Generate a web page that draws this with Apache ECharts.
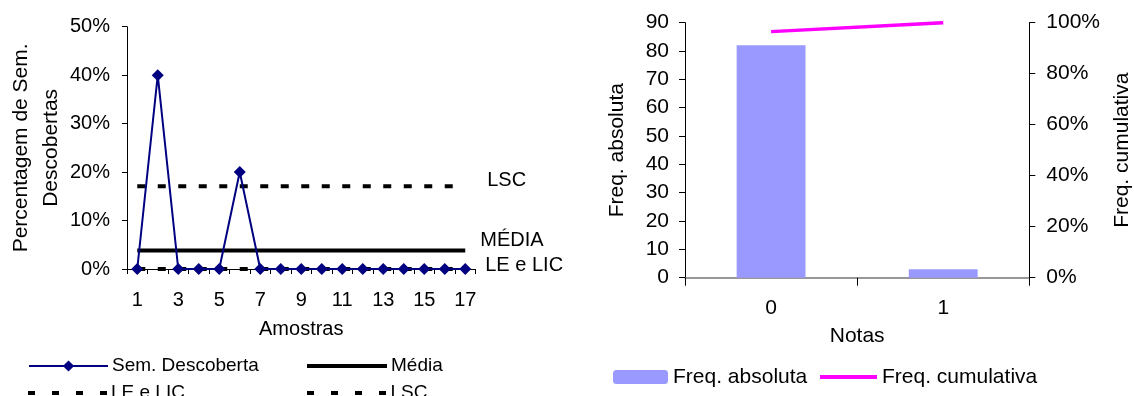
<!DOCTYPE html>
<html>
<head>
<meta charset="utf-8">
<script src="https://cdn.jsdelivr.net/npm/echarts@6/dist/echarts.min.js"></script>
<style>
html,body{margin:0;padding:0;background:#fff;}
#c{width:1134px;height:396px;}
</style>
</head>
<body>
<div id="c"></div>
<script>
// ---- Left chart data (control chart) ----
const amostras = ['1','2','3','4','5','6','7','8','9','10','11','12','13','14','15','16','17'];
const semDescoberta = [0, 0.40, 0, 0, 0, 0.20, 0, 0, 0, 0, 0, 0, 0, 0, 0, 0, 0];
const media = [0.038,0.038,0.038,0.038,0.038,0.038,0.038,0.038,0.038,0.038,0.038,0.038,0.038,0.038,0.038,0.038,0.038];
const leLic = [0,0,0,0,0,0,0,0,0,0,0,0,0,0,0,0,0];
const lsc = [0.171,0.171,0.171,0.171,0.171,0.171,0.171,0.171,0.171,0.171,0.171,0.171,0.171,0.171,0.171,0.171,0.171];

// ---- Right chart data (Pareto) ----
const notas = ['0','1'];
const freqAbsoluta = [82, 3];
const freqCumulativa = [0.965, 1.0];

const FONT = "'Liberation Sans', Arial, sans-serif";
const pct = v => Math.round(v * 100) + '%';

const chart = echarts.init(document.getElementById('c'), null, {renderer:'canvas'});

const dash = [8, 12.5];
const DASH_ICON = 'path://M0,0h7v4h-7zM24,0h7v4h-7zM48,0h7v4h-7zM72,0h7v4h-7z';
const SOLID_ICON = 'path://M0,0H80V4H0Z';
const MAG_ICON = 'path://M0,0H57V4H0Z';

const legText = (size) => ({fontSize: size, fontFamily: FONT, color: '#000'});

const option = {
  animation: false,
  textStyle: {fontFamily: FONT, color: '#000'},
  grid: [
    {left: 127, top: 26.7, width: 348.5, height: 242.3},
    {left: 685, top: 22.7, width: 344.3, height: 255}
  ],
  legend: [
    {data: ['Sem. Descoberta'], left: 28, top: 356.5, padding: 0, itemWidth: 79, itemHeight: 14,
     textStyle: Object.assign(legText(19), {padding: [0,0,0,-1]})},
    {data: [{name: 'Média', icon: SOLID_ICON}], left: 307, top: 356.5, padding: 0, itemWidth: 80, itemHeight: 4,
     textStyle: Object.assign(legText(19), {padding: [0,0,0,-1]})},
    {data: [{name: 'LE e LIC', icon: DASH_ICON}], left: 28, top: 383.5, padding: 0, itemWidth: 79, itemHeight: 4,
     textStyle: Object.assign(legText(19), {padding: [0,0,0,-1]})},
    {data: [{name: 'LSC', icon: DASH_ICON}], left: 307, top: 383.5, padding: 0, itemWidth: 80, itemHeight: 4,
     textStyle: Object.assign(legText(19), {padding: [0,0,0,-1]})},
    {data: ['Freq. absoluta'], left: 613, top: 366.5, padding: 0, itemWidth: 55, itemHeight: 14,
     textStyle: legText(21)},
    {data: [{name: 'Freq. cumulativa', icon: MAG_ICON}], left: 820, top: 366.5, padding: 0, itemWidth: 57, itemHeight: 4,
     textStyle: legText(21)}
  ],
  xAxis: [
    {
      type: 'category', gridIndex: 0, data: amostras, boundaryGap: true,
      name: 'Amostras', nameLocation: 'middle', nameGap: 50,
      nameTextStyle: {fontSize: 20, fontFamily: FONT, color: '#000'},
      axisLine: {show: true, lineStyle: {color: '#000', width: 1}},
      axisTick: {show: true, interval: 0, length: 5, lineStyle: {color: '#000'}},
      axisLabel: {interval: 1, margin: 21, fontSize: 20, fontFamily: FONT, color: '#000'},
      splitLine: {show: false}
    },
    {
      type: 'category', gridIndex: 1, data: notas, boundaryGap: true,
      name: 'Notas', nameLocation: 'middle', nameGap: 48,
      nameTextStyle: {fontSize: 21, fontFamily: FONT, color: '#000'},
      axisLine: {show: true, lineStyle: {color: '#777', width: 1.5}},
      axisTick: {show: true, interval: 0, length: 8, lineStyle: {color: '#000'}},
      axisLabel: {margin: 20, fontSize: 21, fontFamily: FONT, color: '#000'},
      splitLine: {show: false}
    }
  ],
  yAxis: [
    {
      type: 'value', gridIndex: 0, min: 0, max: 0.5, interval: 0.1,
      name: 'Percentagem de Sem.\nDescobertas', nameLocation: 'middle', nameGap: 61,
      nameTextStyle: {fontSize: 21, lineHeight: 30, fontFamily: FONT, color: '#000'},
      axisLine: {show: true, lineStyle: {color: '#000', width: 1}},
      axisTick: {show: true, length: 5, lineStyle: {color: '#000'}},
      axisLabel: {formatter: pct, margin: 17, fontSize: 20, fontFamily: FONT, color: '#000'},
      splitLine: {show: false}
    },
    {
      type: 'value', gridIndex: 1, min: 0, max: 90, interval: 10,
      name: 'Freq. absoluta', nameLocation: 'middle', nameGap: 57,
      nameTextStyle: {fontSize: 21, fontFamily: FONT, color: '#000'},
      axisLine: {show: true, lineStyle: {color: '#000', width: 1}},
      axisTick: {show: true, length: 6, lineStyle: {color: '#000'}},
      axisLabel: {margin: 16, fontSize: 21, fontFamily: FONT, color: '#000'},
      splitLine: {show: false}
    },
    {
      type: 'value', gridIndex: 1, position: 'right', min: 0, max: 1, interval: 0.2,
      name: 'Freq. cumulativa', nameLocation: 'middle', nameGap: 82,
      nameTextStyle: {fontSize: 21, fontFamily: FONT, color: '#000'},
      axisLine: {show: true, lineStyle: {color: '#000', width: 1}},
      axisTick: {show: true, length: 6, lineStyle: {color: '#000'}},
      axisLabel: {formatter: pct, margin: 17, fontSize: 21, fontFamily: FONT, color: '#000'},
      splitLine: {show: false}
    }
  ],
  series: [
    {
      name: 'LE e LIC', type: 'line', xAxisIndex: 0, yAxisIndex: 0, data: leLic,
      symbol: 'none', lineStyle: {color: '#000', width: 4, type: dash, cap: 'butt'},
      itemStyle: {color: '#000'},
      endLabel: {show: true, formatter: 'LE e LIC', distance: 0, offset: [20, -4],
                 fontSize: 20, fontFamily: FONT, color: '#000'},
      z: 2
    },
    {
      name: 'LSC', type: 'line', xAxisIndex: 0, yAxisIndex: 0, data: lsc,
      symbol: 'none', lineStyle: {color: '#000', width: 4, type: dash, cap: 'butt'},
      itemStyle: {color: '#000'},
      endLabel: {show: true, formatter: 'LSC', distance: 0, offset: [22, -6],
                 fontSize: 20, fontFamily: FONT, color: '#000'},
      z: 2
    },
    {
      name: 'Média', type: 'line', xAxisIndex: 0, yAxisIndex: 0, data: media,
      symbol: 'none', lineStyle: {color: '#000', width: 4},
      itemStyle: {color: '#000'},
      endLabel: {show: true, formatter: 'MÉDIA', distance: 0, offset: [15, -10],
                 fontSize: 20, fontFamily: FONT, color: '#000'},
      z: 3
    },
    {
      name: 'Sem. Descoberta', type: 'line', xAxisIndex: 0, yAxisIndex: 0, data: semDescoberta,
      symbol: 'diamond', symbolSize: 12,
      lineStyle: {color: '#000080', width: 2}, itemStyle: {color: '#000080'},
      z: 4
    },
    {
      name: 'Freq. absoluta', type: 'bar', xAxisIndex: 1, yAxisIndex: 1, data: freqAbsoluta,
      barWidth: '40%', itemStyle: {color: '#9999FF'}
    },
    {
      name: 'Freq. cumulativa', type: 'line', xAxisIndex: 1, yAxisIndex: 2, data: freqCumulativa,
      symbol: 'none', lineStyle: {color: '#FF00FF', width: 3.5}, itemStyle: {color: '#FF00FF'}
    }
  ]
};
chart.setOption(option);
</script>
</body>
</html>
